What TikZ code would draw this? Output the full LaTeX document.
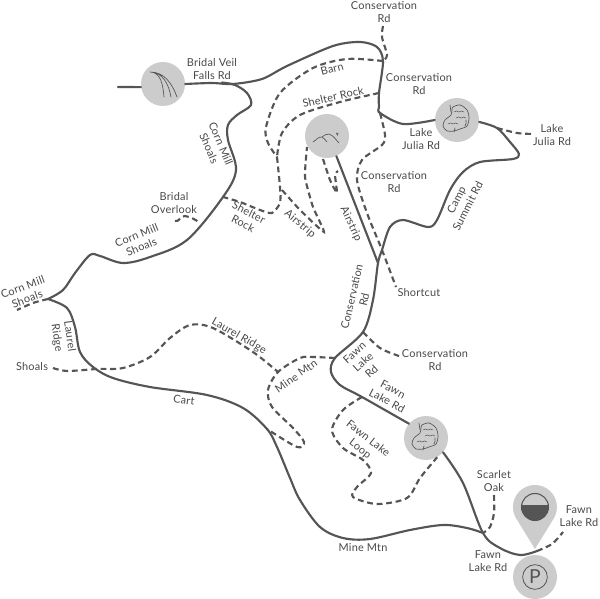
\documentclass[tikz,border=0pt]{standalone}
\usepackage{fontspec}
\setmainfont[LetterSpace=2]{Lato}
\definecolor{roadgray}{HTML}{555555}
\definecolor{spotgray}{HTML}{CCCCCC}
\definecolor{textgray}{HTML}{484848}
\tikzset{
    road/.style={line width=1.6pt,roadgray,line cap=round},
    trail/.style={line width=1.6pt,roadgray,dash pattern=on 4.4pt off 2.8pt},
    spot/.style={circle,fill=spotgray,minimum size=33pt,inner sep=0pt},
    lbl/.style={text=textgray,align=center,inner sep=0pt,font=\fontsize{8.2}{9.6}\selectfont},
    icon/.style={line width=0.5pt,roadgray,line cap=round},
    lakeicon/.pic={
        \draw[icon] plot[smooth cycle] coordinates {(-4,-13) (3,-15) (10,-10) (12,-2) (10,6) (3,9) (-3,11) (-10,11) (-14,6) (-12,0) (-6,-5) (-5,-10)};
        \foreach \x/\y in {2/-8, 4/-2, -4/4}
            \draw[icon,line width=0.4pt] (\x-5,\y) sin (\x-2.5,\y-1) cos (\x,\y) sin (\x+2.5,\y-1) cos (\x+5,\y);
        \draw[icon] (-7,-15) to[out=-80, in=100] (-6,-8);
        \draw[icon] (9,0) to[out=-80, in=60] (8,6);
        \draw[icon] (-2,8) to[out=-90, in=90] (-3,12);
    }
}
\begin{document}
\begin{tikzpicture}[x=0.75pt,y=-0.75pt]
    \useasboundingbox (0,0) rectangle (600,599);

    \draw node[spot] (falls) at (163,84) {}
        node[spot] (ridge) at (327,136) {}
        node[spot] (julia) at (457,120) {}
        node[spot] (fawn) at (426,438) {}
        node[spot] (park) at (535,577) {}
        coordinate (tip) at (535,549)
        coordinate (top) at (383,61)
        coordinate (rock) at (379,93)
        coordinate (cons) at (380,113)
        coordinate (split) at (277,157)
        coordinate (overlook) at (223,197)
        coordinate (bridal) at (199,222)
        coordinate (strip) at (282,190)
        coordinate (meet) at (378,263)
        coordinate (lakejoin) at (497,128)
        coordinate (mill) at (48,299)
        coordinate (fawnjoin) at (335,358)
        coordinate (conslow) at (363,332)
        coordinate (loopjoin) at (362,397)
        coordinate (laurel) at (278,372)
        coordinate (cart) at (267,429)
        coordinate (mine) at (483,533)
        coordinate (bridge) at (537,551);

    % marker
    \fill[spotgray] (tip) -- (553.7,518.5) arc[start angle=31.6, end angle=-211.6, radius=22] -- cycle;
    \fill[roadgray] (521.65,505) arc[start angle=188.5, end angle=-8.5, radius=13.5] -- cycle;
    \draw[line width=0.8pt,roadgray] (535,507) circle (13.5);
    \node[circle,draw=roadgray,line width=0.6pt,minimum size=18.5pt,inner sep=0pt,text=roadgray,font=\fontsize{14.5}{14.5}\selectfont] (parkmark) at (park) {P};

    % icons
    \draw[icon] (150,72) to[out=0, in=95] (164,97)
        (150,72) to[out=0, in=100] (171,97)
        (150,72) to[out=0, in=110] (177,97);
    \draw[icon] (313,142) to[out=30, in=175] (322,137) to[out=-10, in=150] (327,142)
        (322,137) to[out=30, in=170] (329,134) to[out=-20, in=135] (339,143)
        (336.5,133) -- (337.3,135) -- (338.1,133);
    \pic at (julia) {lakeicon};
    \pic at (fawn) {lakeicon};

    % roads
    \draw[road] (118,87) -- (falls.188);
    \draw[road] plot[smooth] coordinates {(falls.east) (212,83) (233,84) (262,79) (287,66) (333,46) (360,42) (377,47) (383,61) (379,93) (379,107) (cons) (403,124) (julia.west)};
    \draw[road] plot[smooth,tension=0.5] coordinates {(julia.-5) (lakejoin) (510,142) (519,154) (513,159) (480,162) (463,172) (450,190) (437,220) (428,227) (403,220) (390,227) (382,250) (meet) (373,300) (conslow) (fawnjoin) (331,372) (340,385) (loopjoin) (fawn.140)};
    \draw[road] plot[smooth,tension=0.55] coordinates {(fawn.-40) (463,483) (mine) (500,548) (520,555) (bridge)};
    \draw[road] plot[smooth,tension=0.55] coordinates {(mine) (467,528) (443,525) (410,530) (370,539) (343,538) (320,527) (300,500) (290,478) (277,447) (cart) (243,408) (207,395) (150,387) (113,378) (93,367) (80,352) (75,327) (67,308) (mill)};
    \draw[road] plot[smooth,tension=0.55] coordinates {(mill) (63,290) (75,273) (90,255) (100,256) (123,263) (150,257) (187,240) (overlook) (236,170) (228,140) (228,125) (237,115) (251,105) (247,93) (235,85) (222,82.5)};
    \draw[road] (ridge.-65) -- (meet);

    % trails
    \draw[trail] plot[smooth] coordinates {(383,26) (382,37) (387,55) (top)};
    \draw[trail] plot[smooth] coordinates {(top) (347,59) (313,68) (280,93) (266,127) (268,143) (split)};
    \draw[trail] plot[smooth] coordinates {(rock) (340,102) (300,115) (282,133) (split)};
    \draw[trail] plot[smooth,tension=0.4] coordinates {(split) (280,187) (280,203) (272,213) (260,210) (240,202) (overlook)};
    \draw[trail] plot[smooth,tension=0.3] coordinates {(strip) (300,210) (324,232) (313,207) (305,177) (307,147)};
    \draw[trail] plot[smooth,tension=0.3] coordinates {(323,159) (330,180) (337,193) (335,175) (338,171)};
    \draw[trail] (175,221) to[out=-20, in=170] (185,216) to[out=-10, in=150] (bridal);
    \draw[trail] plot[smooth] coordinates {(cons) (385,135) (382,145) (362,160) (357,180) (367,213) (382,250) (396,287)};
    \draw[trail] plot[smooth] coordinates {(lakejoin) (517,133) (534,134)};
    \draw[trail] plot[smooth] coordinates {(mill) (33,303) (17,310)};
    \draw[trail] plot[smooth] coordinates {(53,368) (67,371) (97,369) (123,368) (150,357) (170,338) (190,325) (213,328) (253,352) (laurel)};
    \draw[trail] plot[smooth,tension=0.5] coordinates {(fawnjoin) (313,357) (300,358) (laurel) (268,390) (272,407) (293,428) (304,442) (297,447) (cart)};
    \draw[trail] plot[smooth,tension=0.5] coordinates {(loopjoin) (343,410) (332,430) (343,448) (363,460) (371,473) (357,487) (353,497) (377,504) (407,498) (420,478) (fawn.-60)};
    \draw[trail] plot[smooth] coordinates {(conslow) (380,348) (399,356)};
    \draw[trail] plot[smooth] coordinates {(494,495) (494,513) (490,527) (mine)};
    \draw[trail] plot[smooth] coordinates {(bridge) (552,544) (563,532)};

    % labels
    \draw node[lbl] (constop) at (384,12) {Conservation\\Rd}
        node[lbl] (veil) at (212,69) {Bridal Veil\\Falls Rd}
        node[lbl,rotate=15] (barn) at (332,69) {Barn}
        node[lbl,rotate=13] (shelter) at (333,97) {Shelter Rock}
        node[lbl] (consmid) at (419,84) {Conservation\\Rd}
        node[lbl] (juliaw) at (421,139) {Lake\\Julia Rd}
        node[lbl] (juliae) at (552,135) {Lake\\Julia Rd}
        node[lbl] (consin) at (394,182) {Conservation\\Rd}
        node[lbl,rotate=63] (camp) at (462,203) {Camp\\Summit Rd}
        node[lbl,rotate=-65] (airr) at (351,224) {Airstrip}
        node[lbl,rotate=-40] (airl) at (300,224) {Airstrip}
        node[lbl,rotate=-27] (rockl) at (246,218) {Shelter\\Rock}
        node[lbl,rotate=-67] (millup) at (215,146) {Corn Mill\\Shoals}
        node[lbl] (over) at (174,203) {Bridal\\Overlook}
        node[lbl,rotate=22] (millmid) at (139,241) {Corn Mill\\Shoals}
        node[lbl,rotate=20] (millend) at (25,293) {Corn Mill\\Shoals}
        node[lbl,rotate=-82] (ridgel) at (63,337) {Laurel\\Ridge}
        node[lbl] (shoals) at (32,367) {Shoals}
        node[lbl,rotate=-30] (ridget) at (239,336) {Laurel Ridge}
        node[lbl,rotate=-8] (cartl) at (184,400) {Cart}
        node[lbl,rotate=35] (minetop) at (296,376) {Mine Mtn}
        node[lbl,rotate=77] (consrot) at (358,298) {Conservation\\Rd}
        node[lbl,rotate=42] (fawna) at (363,362) {Fawn\\Lake\\Rd}
        node[lbl,rotate=-28] (fawnb) at (390,395) {Fawn\\Lake Rd}
        node[lbl,rotate=-38] (fawnloop) at (364,444) {Fawn Lake\\Loop}
        node[lbl] (conslab) at (435,360) {Conservation\\Rd}
        node[lbl] (scarlet) at (494,481) {Scarlet\\Oak}
        node[lbl] (fawne) at (579,516) {Fawn\\Lake Rd}
        node[lbl] (fawns) at (488,561) {Fawn\\Lake Rd}
        node[lbl] (minebot) at (363,548) {Mine Mtn}
        node[lbl] (short) at (419,293) {Shortcut};
\end{tikzpicture}
\end{document}
